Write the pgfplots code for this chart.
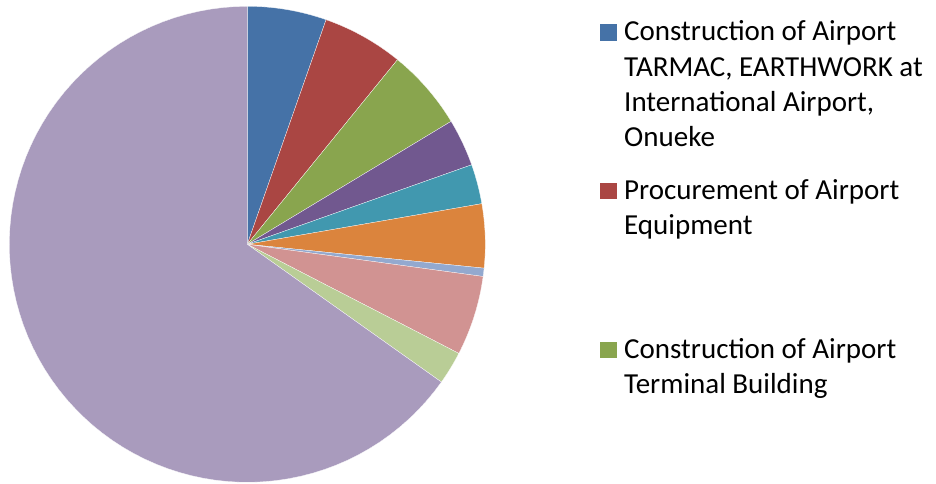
\documentclass[border=0pt]{standalone}
\usepackage{fontspec}
\setmainfont{Carlito}
\usepackage{pgfplots}
\pgfplotsset{compat=1.18}
\definecolor{c1}{HTML}{4572A7}
\definecolor{c2}{HTML}{AA4643}
\definecolor{c3}{HTML}{89A54E}
\definecolor{c4}{HTML}{71588F}
\definecolor{c5}{HTML}{4198AF}
\definecolor{c6}{HTML}{DB843D}
\definecolor{c7}{HTML}{93A9CF}
\definecolor{c8}{HTML}{D19392}
\definecolor{c9}{HTML}{B9CD96}
\definecolor{c10}{HTML}{A99BBD}
% slice shares in percent: 5.37, 5.50, 5.49, 3.22, 2.69, 4.33, 0.56, 5.42, 2.24, 65.18
% arguments: cumulative start %, cumulative end %, colour
\newcommand{\slice}[3]{%
  \pgfmathsetmacro{\aS}{90-3.6*#2}%
  \pgfmathsetmacro{\aE}{90-3.6*#1}%
  \addplot[fill=#3, draw=white, line width=0.25pt, domain=\aS:\aE, samples=80]
    ({238*cos(x)},{238*sin(x)}) -- (axis cs:0,0) -- cycle;
}
\newcommand{\legfont}{\fontsize{29pt}{35.4pt}\selectfont}
\begin{document}
\begin{tikzpicture}
\begin{axis}[
  at={(0,0)}, anchor=center,
  x=1pt, y=1pt,
  xmin=-238, xmax=238, ymin=-238, ymax=238,
  hide axis,
  clip=false,
]
\slice{0}{5.37}{c1}
\slice{5.37}{10.87}{c2}
\slice{10.87}{16.36}{c3}
\slice{16.36}{19.58}{c4}
\slice{19.58}{22.27}{c5}
\slice{22.27}{26.60}{c6}
\slice{26.60}{27.16}{c7}
\slice{27.16}{32.58}{c8}
\slice{32.58}{34.82}{c9}
\slice{34.82}{100}{c10}
\end{axis}
% legend
\fill[c1] (352.7pt,203.6pt) rectangle (369.4pt,220.3pt);
\node[anchor=base west, inner sep=0pt, font=\legfont] at (376.7pt,203.6pt)
  {\parbox[t]{320pt}{Construction of Airport\\TARMAC, EARTHWORK at\\International Airport,\\Onueke}};
\fill[c2] (352.7pt,45.0pt) rectangle (369.4pt,61.7pt);
\node[anchor=base west, inner sep=0pt, font=\legfont] at (376.7pt,45.0pt)
  {\parbox[t]{320pt}{Procurement of Airport\\Equipment}};
\fill[c3] (352.7pt,-114.0pt) rectangle (369.4pt,-97.3pt);
\node[anchor=base west, inner sep=0pt, font=\legfont] at (376.7pt,-114.0pt)
  {\parbox[t]{320pt}{Construction of Airport\\Terminal Building}};
\pgfresetboundingbox
\useasboundingbox (-247.3pt,-239.7pt) rectangle (688.7pt,244.3pt);
\end{tikzpicture}
\end{document}
